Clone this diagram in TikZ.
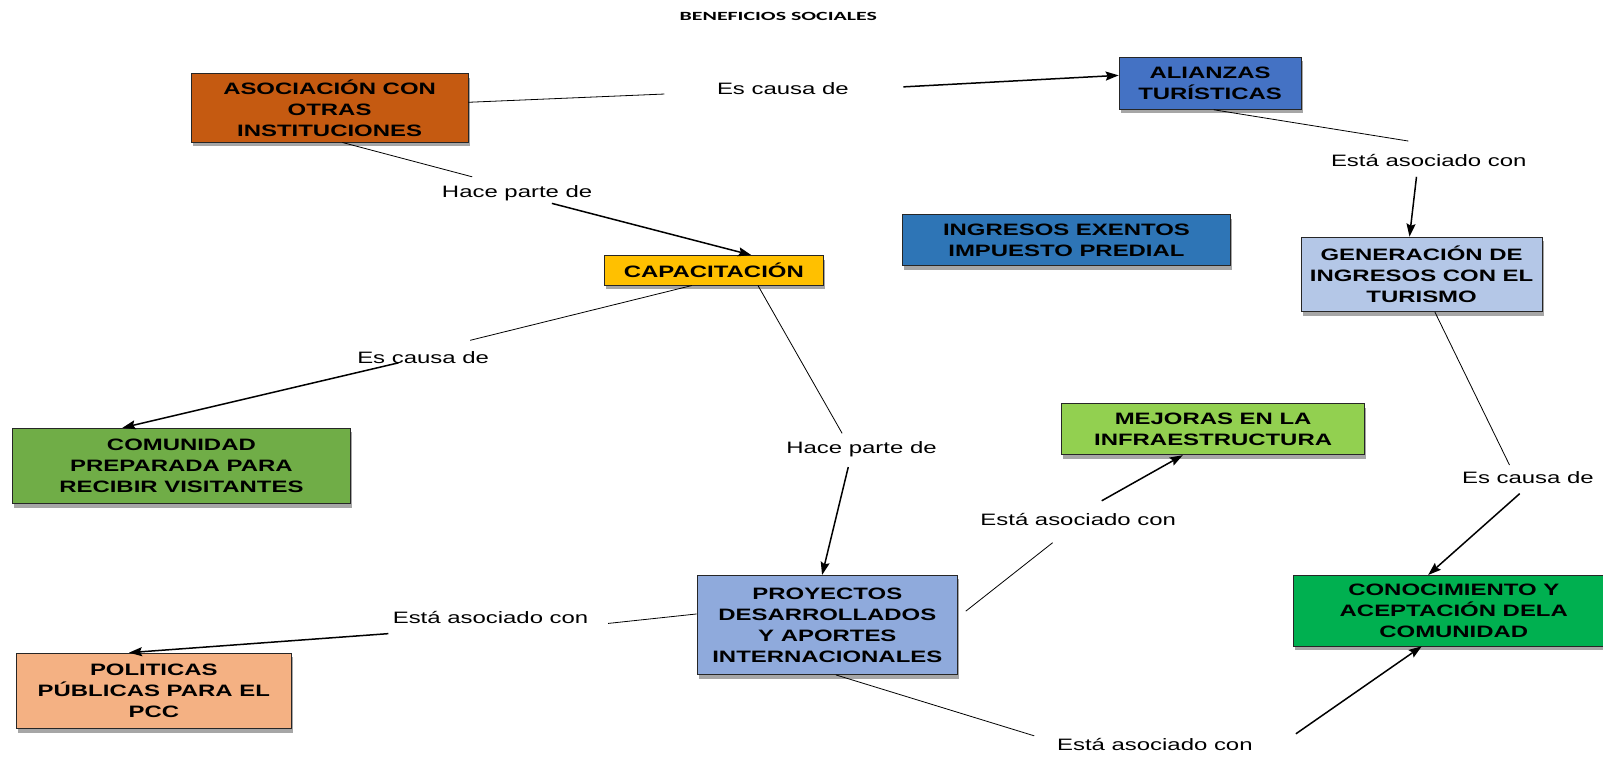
\documentclass[tikz,border=0pt]{standalone}
\usepackage{fontspec}
\setmainfont{Liberation Sans}
\newfontfamily\labfont[FakeStretch=1.45]{Liberation Sans}
\newfontfamily\titfont[FakeStretch=1.75]{Carlito}
\usetikzlibrary{arrows.meta,calc,shadows}
\definecolor{casoc}{HTML}{C55A11}
\definecolor{calian}{HTML}{4472C4}
\definecolor{ccapac}{HTML}{FFC000}
\definecolor{cingr}{HTML}{2E75B6}
\definecolor{cgen}{HTML}{B4C7E7}
\definecolor{ccom}{HTML}{70AD47}
\definecolor{cmej}{HTML}{92D050}
\definecolor{cproy}{HTML}{8FAADC}
\definecolor{cconoc}{HTML}{00B050}
\definecolor{cpol}{HTML}{F4B183}
\tikzset{
  box/.style={draw=black!85, line width=0.8pt, align=center, inner sep=0pt,
    font=\labfont\bfseries\fontsize{16.5}{21}\selectfont,
    drop shadow={shadow xshift=1.5pt, shadow yshift=-4pt, fill=black!35, opacity=1}},
  sz/.style 2 args={minimum width=#1*1.022pt, minimum height=#2*1.022pt},
  lab/.style={inner sep=1pt, font=\labfont\fontsize{16.5}{20}\selectfont},
  thinln/.style={line width=0.8pt, black},
  arr/.style={line width=1.5pt, black, -{Stealth[length=13pt,width=9pt,inset=2pt]}}
}
\begin{document}
\begin{tikzpicture}[x=1.022pt,y=-1.022pt]
\useasboundingbox (0,0) rectangle (1568.5,740.7);
\node[font=\titfont\bfseries\fontsize{12.5}{14}\selectfont] (title) at (761.5,16) {BENEFICIOS SOCIALES};

% boxes
\node[box, sz={271}{67}, fill=casoc] (asoc) at (322.5,105.5) {ASOCIACIÓN CON\\OTRAS\\INSTITUCIONES};
\node[box, sz={178}{51}, fill=calian] (alian) at (1184,81.5) {ALIANZAS\\TURÍSTICAS};
\node[box, sz={215}{29}, fill=ccapac] (capac) at (698.5,264.5) {CAPACITACIÓN};
\node[box, sz={321}{50}, fill=cingr] (ingr) at (1043.5,235) {INGRESOS EXENTOS\\IMPUESTO PREDIAL};
\node[box, sz={236}{73}, fill=cgen] (gen) at (1391,268.5) {GENERACIÓN DE\\INGRESOS CON EL\\TURISMO};
\node[box, sz={331}{74}, fill=ccom] (com) at (177.5,456) {COMUNIDAD\\PREPARADA PARA\\RECIBIR VISITANTES};
\node[box, sz={296}{50}, fill=cmej] (mej) at (1187,420) {MEJORAS EN LA\\INFRAESTRUCTURA};
\node[box, sz={255}{97}, fill=cproy] (proy) at (809.5,611.5) {PROYECTOS\\DESARROLLADOS\\Y APORTES\\INTERNACIONALES};
\node[box, sz={313}{69}, fill=cconoc] (conoc) at (1422.5,597.5) {CONOCIMIENTO Y\\ACEPTACIÓN DELA\\COMUNIDAD};
\node[box, sz={269}{74}, fill=cpol] (pol) at (150.5,676) {POLITICAS\\PÚBLICAS PARA EL\\PCC};

% labels
\node[lab] (l1) at (766,87) {Es causa de};
\node[lab] (l2) at (506,189) {Hace parte de};
\node[lab] (l3) at (1398,157) {Está asociado con};
\node[lab] (l4) at (414,350) {Es causa de};
\node[lab] (l5) at (843,440) {Hace parte de};
\node[lab] (l6) at (1495,467) {Es causa de};
\node[lab] (l7) at (1055,508) {Está asociado con};
\node[lab] (l8) at (480,604) {Está asociado con};
\node[lab] (l9) at (1130,728) {Está asociado con};

% free ends near labels
\coordinate (l1a) at (650,92);   \coordinate (l1b) at (884,85);
\coordinate (l2a) at (462,173);  \coordinate (l2b) at (540,199);
\coordinate (l3a) at (1378,138); \coordinate (l3b) at (1386,173);
\coordinate (l4a) at (460,333);  \coordinate (l4b) at (390,355);
\coordinate (l5a) at (824,424);  \coordinate (l5b) at (830,457);
\coordinate (l6a) at (1477,455); \coordinate (l6b) at (1487,483);
\coordinate (l7p) at (945,598);  \coordinate (l7a) at (1030,531); \coordinate (l7b) at (1078,490);
\coordinate (l8a) at (595,610);  \coordinate (l8b) at (380,620);
\coordinate (l9a) at (1012,720); \coordinate (l9b) at (1268,718);

% connectors
\draw[thinln] ($(asoc.north east)!0.42!(asoc.south east)$) -- (l1a);
\draw[arr] (l1b) -- ($(alian.north west)!0.35!(alian.south west)$);
\draw[thinln] ($(asoc.south west)!0.546!(asoc.south east)$) -- (l2a);
\draw[arr] (l2b) -- ($(capac.north west)!0.67!(capac.north east)$);
\draw[thinln] ($(alian.south west)!0.52!(alian.south east)$) -- (l3a);
\draw[arr] (l3b) -- ($(gen.north west)!0.45!(gen.north east)$);
\draw[thinln] ($(capac.south west)!0.40!(capac.south east)$) -- (l4a);
\draw[arr] (l4b) -- ($(com.north west)!0.326!(com.north east)$);
\draw[thinln] ($(capac.south west)!0.70!(capac.south east)$) -- (l5a);
\draw[arr] (l5b) -- ($(proy.north west)!0.48!(proy.north east)$);
\draw[thinln] ($(gen.south west)!0.555!(gen.south east)$) -- (l6a);
\draw[arr] (l6b) -- ($(conoc.north west)!0.42!(conoc.north east)$);
\draw[thinln] (l7p) -- (l7a);
\draw[arr] (l7b) -- ($(mej.south west)!0.40!(mej.south east)$);
\draw[thinln] ($(proy.north west)!0.39!(proy.south west)$) -- (l8a);
\draw[arr] (l8b) -- ($(pol.north west)!0.41!(pol.north east)$);
\draw[thinln] ($(proy.south west)!0.533!(proy.south east)$) -- (l9a);
\draw[arr] (l9b) -- ($(conoc.south west)!0.40!(conoc.south east)$);
\end{tikzpicture}
\end{document}
